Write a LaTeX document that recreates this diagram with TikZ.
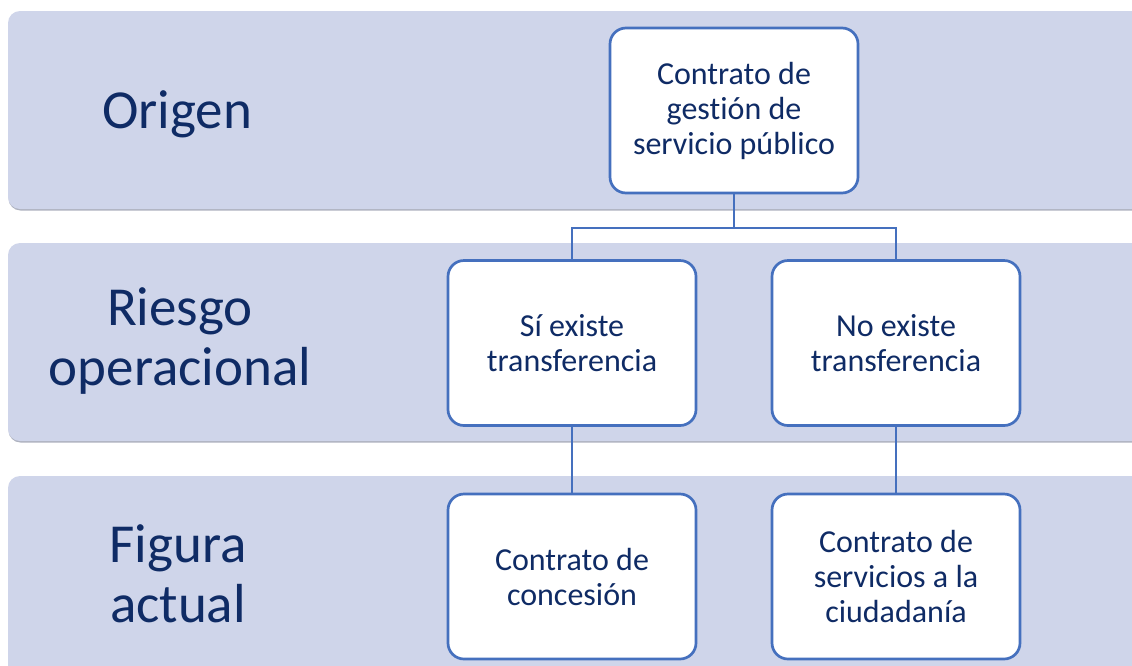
\documentclass[tikz,border=0pt]{standalone}
\usepackage{fontspec}
\setmainfont{Carlito}[Ligatures={NoCommon,NoDiscretionary},Contextuals=NoAlternate]
\definecolor{band}{HTML}{CFD5EA}
\definecolor{bandshadow}{HTML}{AEB2BF}
\definecolor{navy}{HTML}{0F2B65}
\definecolor{edge}{HTML}{4570BE}
\tikzset{
  bandbox/.style={fill=band, draw=none, rounded corners=12pt},
  shadowbox/.style={fill=bandshadow, draw=none, rounded corners=12pt},
  lab/.style={text=navy, align=center, font=\fontsize{55}{60}\selectfont},
  card/.style={draw=edge, line width=2.7pt, fill=white, rounded corners=16pt,
    minimum width=248pt, minimum height=165pt, inner sep=0pt,
    text=navy, align=center, font=\fontsize{32}{35}\selectfont},
  link/.style={draw=edge, line width=2.7pt}
}
\begin{document}
\begin{tikzpicture}[x=1pt,y=-1pt]
\useasboundingbox (0,0) rectangle (1132,665);
\fill[white] (0,0) rectangle (1132,665);
\clip (0,0) rectangle (1132,665);
% bands
\path[shadowbox] (8.5,12.5) rectangle (1160,210.5);
\path[bandbox] (8,11) rectangle (1160,209);
\path[shadowbox] (8.5,244.5) rectangle (1160,442.5);
\path[bandbox] (8,243) rectangle (1160,441);
\path[shadowbox] (8.5,477.5) rectangle (1160,700);
\path[bandbox] (8,476) rectangle (1160,700);
% row labels
\node[lab] (lorig) at (177,114) {Origen};
\node[lab] (lries) at (180,341) {Riesgo\\operacional};
\node[lab] (lfig) at (178,574) {Figura\\actual};
% cards
\node[card] (top) at (734,110.5) {Contrato de\\gestión de\\servicio público};
\node[card] (si) at (572,343) {Sí existe\\transferencia};
\node[card] (no) at (896,343) {No existe\\transferencia};
\node[card] (conc) at (572,576.5) {Contrato de\\concesión};
\node[card] (serv) at (896,576.5) {Contrato de\\servicios a la\\ciudadanía};
% connectors
\coordinate (split) at (734,228);
\draw[link] (top.south) -- (split);
\draw[link] (split) -| (si.north);
\draw[link] (split) -| (no.north);
\draw[link] (si.south) -- (conc.north);
\draw[link] (no.south) -- (serv.north);
\end{tikzpicture}
\end{document}
